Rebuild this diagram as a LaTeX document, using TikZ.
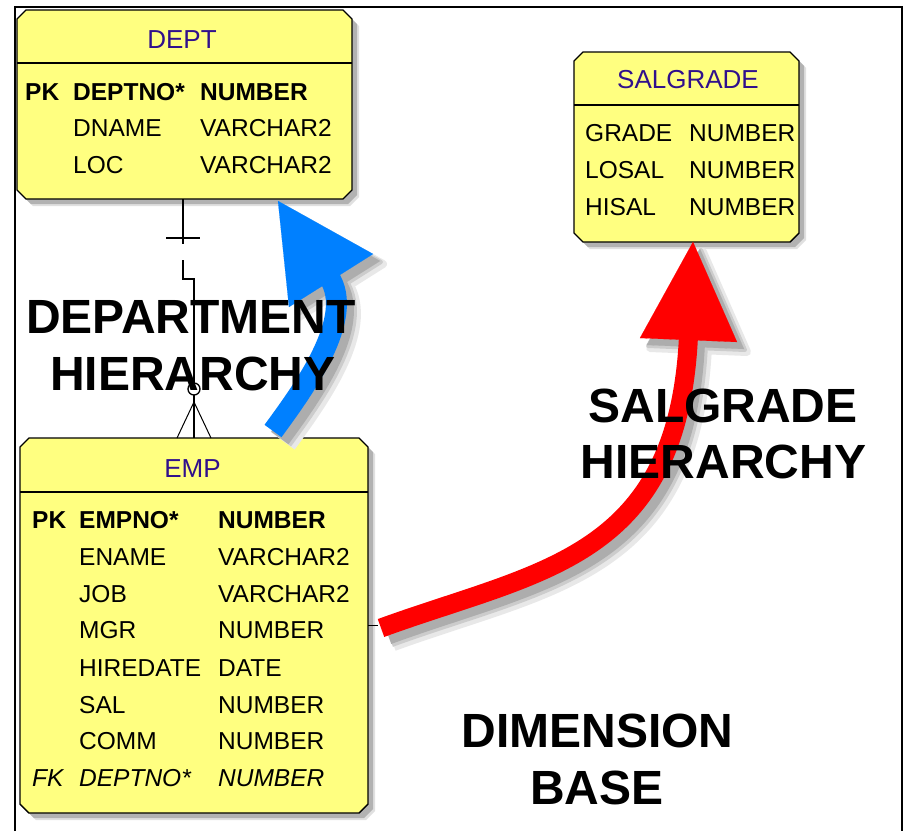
\documentclass[tikz,border=0pt]{standalone}
\usepackage{fontspec}
\setmainfont{Liberation Sans}

\definecolor{entfill}{RGB}{255,255,128}
\definecolor{enttitle}{RGB}{48,16,140}
\definecolor{arrblue}{RGB}{0,128,255}
\definecolor{arrred}{RGB}{255,0,0}

% outline of an entity box with cut corners, built on a node's anchors
% #1 node, #2 corner cut, #3 path style, #4 x offset, #5 y offset
\newcommand\CutBox[5]{%
  \path[#3]
    ([xshift=#2,xshift=#4,yshift=#5]#1.north west) --
    ([xshift=-#2,xshift=#4,yshift=#5]#1.north east) --
    ([yshift=-#2,xshift=#4,yshift=#5]#1.north east) --
    ([yshift=#2,xshift=#4,yshift=#5]#1.south east) --
    ([xshift=-#2,xshift=#4,yshift=#5]#1.south east) --
    ([xshift=#2,xshift=#4,yshift=#5]#1.south west) --
    ([yshift=#2,xshift=#4,yshift=#5]#1.south west) --
    ([yshift=-#2,xshift=#4,yshift=#5]#1.north west) -- cycle;
}

% curved arrow shapes: #1 colour, #2 shaft width, #3 outline width of the head
\newcommand\DeptArrow[3]{%
  \draw[#1, line width=#2] (273,431) .. controls (303,390) and (356,318) .. (329,277);
  \filldraw[#1, line width=#3, line join=round] (278,201) -- (373,254) -- (289,307) -- cycle;
}
\newcommand\SalArrow[3]{%
  \draw[#1, line width=#2] (381,628) .. controls (540,570) and (678,560) .. (688.5,336);
  \filldraw[#1, line width=#3, line join=round] (693,242) -- (737,342) -- (640,338) -- cycle;
}

\begin{document}
\begin{tikzpicture}[x=1pt,y=-1pt,
  entity/.style={rectangle, draw=none, inner sep=0pt, outer sep=0pt},
  title/.style={anchor=base, inner sep=0pt, text=enttitle,
    font=\fontsize{26}{30}\selectfont},
  row/.style={anchor=base west, inner sep=0pt, font=\fontsize{24.5}{28}\selectfont},
  rowb/.style={row, font=\fontsize{24.5}{28}\selectfont\bfseries},
  rowi/.style={row, font=\fontsize{24.5}{28}\selectfont\itshape},
  biglabel/.style={anchor=base, inner sep=0pt, font=\fontsize{48}{54}\selectfont\bfseries},
  boxline/.style={draw=black, line width=1.4pt, fill=entfill, line join=miter},
  rel/.style={draw=black, line width=1.3pt},
  frameline/.style={draw=black, line width=2pt}]

\useasboundingbox (0,0) rectangle (906,831);
\fill[white] (0,0) rectangle (906,831);

% outer frame
\draw[frameline] (15,831) -- (15,7) -- (902,7) -- (902,831);

% ---------- entity boxes ----------
\node[entity, minimum width=335pt, minimum height=189pt] (dept) at (184.5,104.5) {};
\node[entity, minimum width=225pt, minimum height=190pt] (sal) at (686.5,147) {};
\node[entity, minimum width=348pt, minimum height=375pt] (emp) at (194,625.5) {};

% soft shadows, then the boxes
\CutBox{dept}{9pt}{fill=black!12}{7pt}{-7pt}
\CutBox{dept}{9pt}{fill=black!30}{5pt}{-5pt}
\CutBox{dept}{9pt}{boxline}{0pt}{0pt}
\CutBox{sal}{9pt}{fill=black!12}{7pt}{-7pt}
\CutBox{sal}{9pt}{fill=black!30}{5pt}{-5pt}
\CutBox{sal}{9pt}{boxline}{0pt}{0pt}
\CutBox{emp}{9pt}{fill=black!12}{7pt}{-7pt}
\CutBox{emp}{9pt}{fill=black!30}{5pt}{-5pt}
\CutBox{emp}{9pt}{boxline}{0pt}{0pt}

% header separators
\draw[line width=1.4pt] (dept.west |- 0,63) -- (dept.east |- 0,63);
\draw[line width=1.4pt] (sal.west |- 0,105) -- (sal.east |- 0,105);
\draw[line width=1.4pt] (emp.west |- 0,492) -- (emp.east |- 0,492);

% ---------- DEPT ----------
\node[title] (deptT) at (182,48) {DEPT};
\node[rowb] (dpk) at (25,100) {PK};
\node[rowb] (d1n) at (73,100) {DEPTNO*};
\node[rowb] (d1t) at (200,100) {NUMBER};
\node[row] (d2n) at (73,136) {DNAME};
\node[row] (d2t) at (200,136) {VARCHAR2};
\node[row] (d3n) at (73,173) {LOC};
\node[row] (d3t) at (200,173) {VARCHAR2};

% ---------- SALGRADE ----------
\node[title] (salT) at (688,88) {SALGRADE};
\node[row] (s1n) at (585,141) {GRADE};
\node[row] (s1t) at (689,141) {NUMBER};
\node[row] (s2n) at (585,178) {LOSAL};
\node[row] (s2t) at (689,178) {NUMBER};
\node[row] (s3n) at (585,215) {HISAL};
\node[row] (s3t) at (689,215) {NUMBER};

% ---------- EMP ----------
\node[title] (empT) at (192.5,477) {EMP};
\node[rowb] (epk) at (32,528) {PK};
\node[rowb] (e1n) at (79,528) {EMPNO*};
\node[rowb] (e1t) at (218,528) {NUMBER};
\node[row] (e2n) at (79,565) {ENAME};
\node[row] (e2t) at (218,565) {VARCHAR2};
\node[row] (e3n) at (79,602) {JOB};
\node[row] (e3t) at (218,602) {VARCHAR2};
\node[row] (e4n) at (79,638) {MGR};
\node[row] (e4t) at (218,638) {NUMBER};
\node[row] (e5n) at (79,676) {HIREDATE};
\node[row] (e5t) at (218,676) {DATE};
\node[row] (e6n) at (79,713) {SAL};
\node[row] (e6t) at (218,713) {NUMBER};
\node[row] (e7n) at (79,749) {COMM};
\node[row] (e7t) at (218,749) {NUMBER};
\node[rowi] (efk) at (32,786) {FK};
\node[rowi] (e8n) at (79,786) {DEPTNO*};
\node[rowi] (e8t) at (218,786) {NUMBER};

% ---------- DEPT -- EMP relationship ----------
\coordinate (jtop) at ([xshift=-1.5pt]dept.south);
\coordinate (jbar) at ([yshift=-39pt]jtop);
\coordinate (ja) at ([yshift=-61pt]jtop);
\coordinate (jb) at ([yshift=-80pt]jtop);
\coordinate (jc) at (jb -| emp.north);
\coordinate (oc) at ([yshift=49pt]emp.north);
\coordinate (crow) at ([yshift=36pt]emp.north);
\draw[rel] (jtop) -- ([yshift=-45pt]jtop);
\draw[rel] ([xshift=-17pt]jbar) -- ([xshift=17pt]jbar);
\draw[rel] (ja) -- (jb) -- (jc) -- ([yshift=6pt]oc);
\draw[rel] (oc) circle[radius=6];
\draw[rel] ([yshift=-6pt]oc) -- (emp.north);
\draw[line width=1pt] ([xshift=-17pt]emp.north) -- (crow) -- ([xshift=17pt]emp.north);

% stub on the EMP side
\draw[rel] (emp.east) -- ([xshift=10pt]emp.east);

% ---------- arrow shadows ----------
\begin{scope}[shift={(10,10)}]
  \DeptArrow{black!9}{29pt}{8pt}
  \SalArrow{black!9}{27pt}{8pt}
\end{scope}
\begin{scope}[shift={(8,8)}]
  \DeptArrow{black!20}{25pt}{4pt}
  \SalArrow{black!20}{23pt}{4pt}
\end{scope}
\begin{scope}[shift={(7,7)}]
  \DeptArrow{black!32}{21pt}{0.1pt}
  \SalArrow{black!32}{19pt}{0.1pt}
\end{scope}

% ---------- arrows ----------
\DeptArrow{arrblue}{21pt}{0.1pt}
\SalArrow{arrred}{19pt}{0.1pt}

% ---------- big labels ----------
\node[biglabel] (lbd1) at (191,333) {DEPARTMENT};
\node[biglabel] (lbd2) at (193,390) {HIERARCHY};
\node[biglabel] (lbs1) at (723,422) {SALGRADE};
\node[biglabel] (lbs2) at (723.5,478) {HIERARCHY};
\node[biglabel] (lbb1) at (597.5,747) {DIMENSION};
\node[biglabel] (lbb2) at (597,804) {BASE};

\end{tikzpicture}
\end{document}
